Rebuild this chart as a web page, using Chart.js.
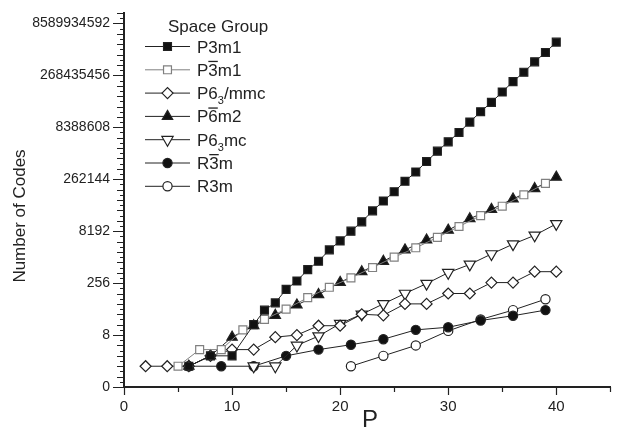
<!DOCTYPE html>
<html>
<head>
<meta charset="utf-8">
<script src="https://cdn.jsdelivr.net/npm/chart.js@4.4.0/dist/chart.umd.min.js"></script>
<style>
html, body { margin: 0; padding: 0; background: #fff; }
#wrap { width: 618px; height: 433px; position: relative; }
</style>
</head>
<body>
<div id="wrap"><canvas id="myChart"></canvas></div>
<script>
var seriesLabels = ['P3m1', 'P3\u0305m1', 'P6\u2083/mmc', 'P6\u0305m2', 'P6\u2083mc', 'R3\u0305m', 'R3m'];

var p3m1P = [6, 8, 10, 12, 13, 14, 15, 16, 17, 18, 19, 20, 21, 22, 23, 24, 25, 26, 27, 28, 29, 30, 31, 32, 33, 34, 35, 36, 37, 38, 39, 40];
var p3m1Log2 = [0, 1, 1, 4, 5.4, 6.1, 7.4, 8.2, 9.3, 10.1, 11.2, 12.06, 13, 13.9, 14.95, 15.9, 16.8, 17.8, 18.7, 19.7, 20.7, 21.6, 22.5, 23.5, 24.5, 25.4, 26.4, 27.4, 28.3, 29.3, 30.2, 31.2];

var p3barm1P = [5, 7, 9, 11, 13, 15, 17, 19, 21, 23, 25, 27, 29, 31, 33, 35, 37, 39];
var p3barm1Log2 = [0, 1.6, 1.6, 3.5, 4.5, 5.5, 6.6, 7.6, 8.5, 9.5, 10.5, 11.4, 12.4, 13.45, 14.5, 15.4, 16.5, 17.6];

var p63mmcP = [2, 4, 6, 8, 10, 12, 14, 16, 18, 20, 22, 24, 26, 28, 30, 32, 34, 36, 38, 40];
var p63mmcLog2 = [0, 0, 0, 1, 1.6, 1.6, 2.8, 3, 3.9, 3.9, 5, 4.9, 6, 6, 7, 7, 8.05, 8.05, 9.1, 9.1];

var p6barm2P = [6, 8, 10, 12, 14, 16, 18, 20, 22, 24, 26, 28, 30, 32, 34, 36, 38, 40];
var p6barm2Log2 = [0, 1, 2.8, 3.9, 4.9, 5.9, 6.9, 8.07, 9.1, 10.1, 11.2, 12.15, 13.1, 14.2, 15.1, 16.1, 17.1, 18.2];

var p63mcP = [12, 14, 16, 18, 20, 22, 24, 26, 28, 30, 32, 34, 36, 38, 40];
var p63mcLog2 = [0, 0, 2, 2.9, 4.1, 5, 6, 7, 7.95, 9, 9.8, 10.8, 11.75, 12.6, 13.7];

var r3barmP = [6, 9, 12, 15, 18, 21, 24, 27, 30, 33, 36, 39];
var r3barmLog2 = [0, 0, 0, 1, 1.6, 2.07, 2.6, 3.5, 3.75, 4.4, 4.86, 5.4];

var r3mP = [21, 24, 27, 30, 33, 36, 39];
var r3mLog2 = [0, 1, 2, 3.4, 4.5, 5.4, 6.45];

var yTickExps = [-2, 3, 8, 13, 18, 23, 28, 33];
var yTickLabels = ['0', '8', '256', '8192', '262144', '8388608', '268435456', '8589934592'];
var xTickLabels = [0, 10, 20, 30, 40];

var fontFamily = '"Liberation Sans", Arial, sans-serif';
Chart.defaults.font.family = fontFamily;
Chart.defaults.color = '#222';

function points(xs, ys) {
    return xs.map(function (x, i) { return { x: x, y: ys[i] }; });
}

function series(i, xs, ys, style, fill, stroke, radius, rotation) {
    return {
        label: seriesLabels[i],
        data: points(xs, ys),
        showLine: true,
        borderColor: stroke,
        borderWidth: 1,
        pointStyle: style,
        pointRadius: radius,
        pointRotation: rotation || 0,
        pointBackgroundColor: fill,
        pointBorderColor: stroke,
        pointBorderWidth: 1.2
    };
}

var datasets = [
    series(0, p3m1P, p3m1Log2, 'rect', '#111', '#222', 5.6),
    series(1, p3barm1P, p3barm1Log2, 'rect', '#fff', '#808080', 5.6),
    series(2, p63mmcP, p63mmcLog2, 'rectRot', '#fff', '#222', 5.5),
    series(3, p6barm2P, p6barm2Log2, 'triangle', '#111', '#222', 6),
    series(4, p63mcP, p63mcLog2, 'triangle', '#fff', '#222', 6.5, 180),
    series(5, r3barmP, r3barmLog2, 'circle', '#111', '#222', 4.6),
    series(6, r3mP, r3mLog2, 'circle', '#fff', '#222', 4.6)
];

function drawMarker(ctx, ds, x, y) {
    ctx.save();
    ctx.fillStyle = ds.pointBackgroundColor;
    ctx.strokeStyle = ds.pointBorderColor;
    ctx.lineWidth = ds.pointBorderWidth;
    Chart.helpers.drawPoint(ctx, {
        pointStyle: ds.pointStyle,
        radius: ds.pointRadius,
        rotation: ds.pointRotation,
        borderWidth: ds.pointBorderWidth
    }, x, y);
    ctx.restore();
}

// text with overline (U+0305) and subscript 3
function drawLabel(ctx, text, x, y) {
    var big = '17px ' + fontFamily, small = '11px ' + fontFamily;
    ctx.font = big;
    for (var i = 0; i < text.length; i++) {
        var c = text[i];
        if (c === '\u2083') {
            ctx.font = small;
            ctx.fillText('3', x, y + 5);
            x += ctx.measureText('3').width;
            ctx.font = big;
        } else {
            var w = ctx.measureText(c).width;
            ctx.fillText(c, x, y);
            if (text[i + 1] === '\u0305') {
                ctx.fillRect(x, y - 15, w, 1.3);
                i++;
            }
            x += w;
        }
    }
}

var decor = {
    id: 'decor',
    afterDraw: function (chart) {
        var ctx = chart.ctx, xs = chart.scales.x, ys = chart.scales.y, area = chart.chartArea;
        ctx.save();
        ctx.strokeStyle = '#222';
        ctx.lineWidth = 1.2;
        ctx.beginPath();
        ys.ticks.forEach(function (t) {
            var py = Math.round(ys.getPixelForValue(t.value)) + 0.5;
            var len = yTickExps.indexOf(t.value) >= 0 ? 11 : (Number.isInteger(t.value) ? 7 : 4);
            ctx.moveTo(area.left, py);
            ctx.lineTo(area.left - len, py);
        });
        xs.ticks.forEach(function (t) {
            var px = Math.round(xs.getPixelForValue(t.value)) + 0.5;
            var len = t.value % 10 === 0 ? 8 : 5;
            ctx.moveTo(px, area.bottom);
            ctx.lineTo(px, area.bottom + len);
        });
        ctx.stroke();

        // axis titles
        ctx.fillStyle = '#222';
        ctx.textAlign = 'center';
        ctx.textBaseline = 'middle';
        ctx.font = '24px ' + fontFamily;
        ctx.fillText('P', 370, 420);
        ctx.save();
        ctx.translate(20, 216);
        ctx.rotate(-Math.PI / 2);
        ctx.font = '17px ' + fontFamily;
        ctx.fillText('Number of Codes', 0, 0);
        ctx.restore();

        // legend
        ctx.textAlign = 'left';
        ctx.textBaseline = 'alphabetic';
        ctx.font = '17px ' + fontFamily;
        ctx.fillText('Space Group', 168, 32);
        chart.data.datasets.forEach(function (ds, i) {
            var cy = 46.5 + i * 23.3;
            ctx.strokeStyle = ds.borderColor;
            ctx.lineWidth = 1;
            ctx.beginPath();
            ctx.moveTo(145, cy);
            ctx.lineTo(190, cy);
            ctx.stroke();
            drawMarker(ctx, ds, 167.5, cy);
            ctx.fillStyle = '#222';
            drawLabel(ctx, ds.label, 197, cy + 6);
        });
        ctx.restore();
    }
};

new Chart(document.getElementById('myChart'), {
    type: 'scatter',
    data: { datasets: datasets },
    options: {
        responsive: true,
        maintainAspectRatio: false,
        animation: false,
        layout: { padding: { top: 13, right: 0, left: 0, bottom: 0 } },
        plugins: { legend: { display: false }, tooltip: { enabled: false } },
        elements: { line: { tension: 0 } },
        scales: {
            x: {
                type: 'linear',
                min: 0,
                max: 45,
                afterBuildTicks: function (scale) {
                    var t = [];
                    for (var v = 0; v <= 45; v += 5) t.push({ value: v });
                    scale.ticks = t;
                },
                afterFit: function (scale) { scale.height = 46; },
                grid: { display: true, drawOnChartArea: false, drawTicks: true, tickLength: 8, tickColor: 'transparent' },
                border: { display: true, color: '#222', width: 2 },
                ticks: {
                    autoSkip: false,
                    maxRotation: 0,
                    padding: 3,
                    font: { size: 15 },
                    callback: function (v) { return xTickLabels.indexOf(v) >= 0 ? String(v) : ''; }
                }
            },
            y: {
                type: 'linear',
                min: -2,
                max: 34,
                afterBuildTicks: function (scale) {
                    var t = [];
                    for (var v = -2; v <= 34; v += 0.5) t.push({ value: v });
                    scale.ticks = t;
                },
                afterFit: function (scale) { scale.width = 124; },
                grid: { display: true, drawOnChartArea: false, drawTicks: true, tickLength: 11, tickColor: 'transparent' },
                border: { display: true, color: '#222', width: 2 },
                ticks: {
                    autoSkip: false,
                    padding: 3,
                    font: { size: 14 },
                    callback: function (v) {
                        var k = yTickExps.indexOf(v);
                        return k >= 0 ? yTickLabels[k] : '';
                    }
                }
            }
        }
    },
    plugins: [decor]
});
</script>
</body>
</html>
